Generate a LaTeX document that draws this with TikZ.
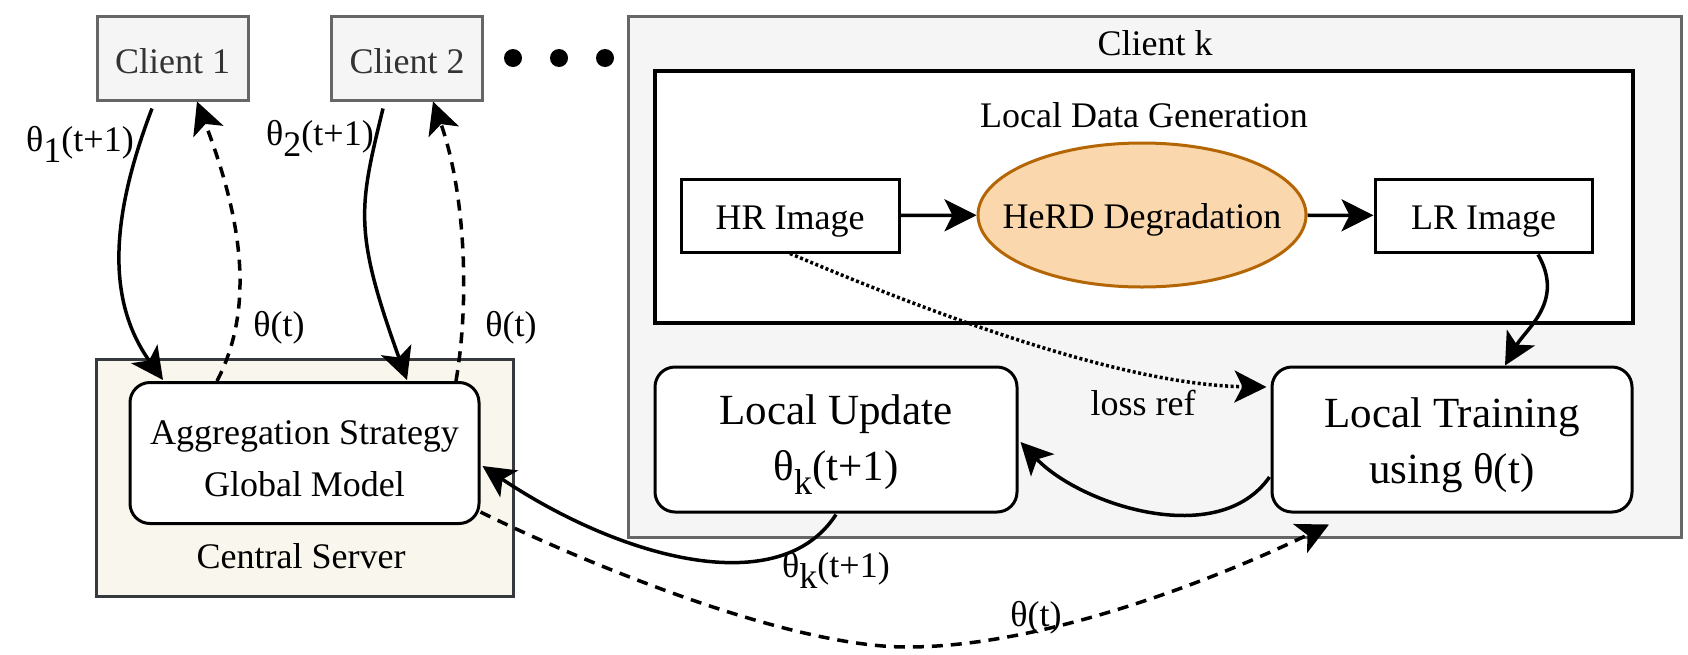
\documentclass[tikz,border=0pt]{standalone}
\usepackage{fontspec}
\setmainfont{Liberation Serif}
\usetikzlibrary{arrows.meta,shapes.geometric,calc}
\definecolor{cfill}{HTML}{F5F5F5}
\definecolor{cdraw}{HTML}{666666}
\definecolor{ctext}{HTML}{333333}
\definecolor{sfill}{HTML}{F9F7ED}
\definecolor{sdraw}{HTML}{36393D}
\definecolor{efill}{HTML}{FAD7AC}
\definecolor{edraw}{HTML}{B46504}
\newcommand{\lsub}[1]{\raisebox{-0.32em}{#1}}
\begin{document}
\begin{tikzpicture}[x=1pt,y=-1pt,
  basefont/.style={font=\fontsize{36}{52}\selectfont, inner sep=0pt},
  bigfont/.style={font=\fontsize{43}{56}\selectfont, inner sep=0pt},
  oneline/.style={text height=25pt, text depth=0pt},
  clientbox/.style={basefont, text height=31pt, text depth=0pt, draw=cdraw, fill=cfill, text=ctext, line width=3pt, minimum width=151pt, minimum height=84pt},
  plainbox/.style={basefont, text height=27pt, text depth=0pt, draw=black, fill=white, line width=3pt, minimum width=218pt, minimum height=73pt},
  roundbox/.style={draw=black, fill=white, line width=3pt, rounded corners=20pt, align=center},
  dotnode/.style={circle, fill=black, minimum size=18pt, inner sep=0pt},
  lbl/.style={basefont},
  tipstyle/.style={-{Stealth[length=32pt,width=32pt,inset=8pt]}},
  conn/.style={line width=3.5pt, tipstyle},
  dconn/.style={conn, dash pattern=on 11pt off 8pt},
  pconn/.style={conn, dash pattern=on 3pt off 2.5pt},
]
\useasboundingbox (0,0) rectangle (1688,654);

% Clients 1, 2 and dots
\node[clientbox] (c1) at (172.5,58) {Client 1};
\node[clientbox] (c2) at (407,58) {Client 2};
\node[dotnode] (d1) at (513,58) {};
\node[dotnode] (d2) at (559,58) {};
\node[dotnode] (d3) at (605,58) {};

% Client k
\node[draw=cdraw, fill=cfill, line width=3pt, minimum width=1053pt, minimum height=521pt, inner sep=0pt] (ck) at (1154.5,276.5) {};
\node[basefont, oneline] (cklbl) at (1155,43) {Client k};

% Local data generation
\node[draw=black, fill=white, line width=3.5pt, minimum width=978pt, minimum height=252pt, inner sep=0pt] (ldg) at (1144,197) {};
\node[basefont, oneline] (ldglbl) at (1144,115) {Local Data Generation};
\node[plainbox] (hr) at (790,215.5) {HR Image};
\node[ellipse, basefont, text height=27pt, text depth=0pt, inner xsep=-26pt, inner ysep=0pt, draw=edraw, fill=efill, line width=3pt, minimum width=328pt, minimum height=144pt] (herd) at (1142,215) {HeRD Degradation};
\node[plainbox, minimum width=217pt] (lr) at (1483.5,215.5) {LR Image};

% Local update / training
\node[roundbox, bigfont, minimum width=362pt, minimum height=145pt] (lu) at (836,439.5) {\rule{0pt}{40pt}Local Update\\θ\lsub{\fontsize{36}{36}\selectfont k}(t+1)};
\node[roundbox, bigfont, minimum width=360pt, minimum height=145pt] (lt) at (1452,439.5) {\rule{0pt}{41pt}Local Training\\using θ(t)};

% Central server
\node[draw=sdraw, fill=sfill, line width=3pt, minimum width=417pt, minimum height=237pt, inner sep=0pt] (srv) at (304.5,477.5) {};
\node[roundbox, basefont, minimum width=349pt, minimum height=141pt] (agg) at (304.5,453) {\rule{0pt}{35pt}Aggregation Strategy\\Global Model};
\node[basefont, oneline] (srvlbl) at (301,556) {Central Server};

% Connectors: clients <-> server
\draw[conn] ($(c1.south)+(-20.5,7)$) .. controls +(-38,100) and +(-60,-84) .. ($(agg.north)+(-141.5,-1)$);
\draw[dconn] ($(agg.north)+(-87.5,0)$) .. controls +(43,-82) and +(38,100) .. ($(c1.south)+(24.5,0)$);
\draw[conn] ($(c2.south)+(-24,7)$) .. controls +(-24,99) and +(-54,-150) .. ($(agg.north)+(102.5,-1)$);
\draw[dconn] ($(agg.north)+(151.5,0)$) .. controls +(14,-82) and +(32,90) .. ($(c2.south)+(26,0)$);

% Local data generation flow
\draw[conn] (hr) -- (herd);
\draw[conn] (herd) -- (lr);
\draw[conn] ($(lr.south)+(54.5,1)$) .. controls +(27,47) and +(21,-37) .. ($(lt.north)+(53,0)$);
\draw[pconn] (hr.south) .. controls +(160,68) and +(-137,-2) .. ($(lt.west)+(-4,-52.5)$);
\draw[conn] ($(lt.west)+(-1,37.5)$) .. controls +(-51,73) and +(60,63) .. ($(lu.east)+(2,2.5)$);

% Local update -> server, server -> local training
\draw[conn] ($(lu.south)+(0,1)$) .. controls +(-56,87) and +(139,93) .. ($(agg.east)+(2,13)$);
\coordinate (dip) at (907,647);
\draw[dconn] ($(agg.south east)+(0,-13)$) .. controls +(81,40) and +(-127,0) .. (dip)
  .. controls +(143,0) and +(-99,48) .. ($(lt.south)+(-123,11)$);

% Labels
\node[lbl, anchor=base] (l1) at (80,151) {θ\lsub{1}(t+1)};
\node[lbl, anchor=base] (l2) at (320,145) {θ\lsub{2}(t+1)};
\node[lbl, anchor=base] (l3) at (279,336) {θ(t)};
\node[lbl, anchor=base] (l4) at (511,336) {θ(t)};
\node[lbl, anchor=base] (l5) at (836,577) {θ\lsub{k}(t+1)};
\node[lbl, anchor=base] (l6) at (1036,626) {θ(t)};
\node[lbl, oneline] (l7) at (1143,403) {loss ref};
\end{tikzpicture}
\end{document}
